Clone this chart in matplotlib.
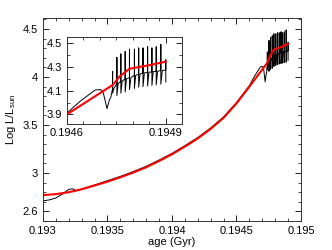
import matplotlib.pyplot as plt
import numpy as np
from matplotlib.ticker import MultipleLocator

plt.rcParams['font.family'] = ['Liberation Sans', 'DejaVu Sans']
plt.rcParams['mathtext.fontset'] = 'custom'
plt.rcParams['mathtext.rm'] = 'Liberation Sans'
plt.rcParams['font.size'] = 8

# model track (red)
red_age = [0.1930, 0.1931, 0.1932, 0.1933, 0.1934, 0.1935, 0.1936, 0.1937, 0.1938, 0.1939,
           0.1940, 0.1941, 0.1942, 0.1943, 0.1944, 0.1945,
           0.1946, 0.19474, 0.19476, 0.19479, 0.19482, 0.19485, 0.1949]
red_lum = [2.77, 2.78, 2.80, 2.83, 2.87, 2.91, 2.955, 3.005, 3.06, 3.125,
           3.195, 3.275, 3.36, 3.46, 3.575, 3.725,
           3.90, 4.15, 4.22, 4.285, 4.30, 4.315, 4.345]

# detailed track (black), smooth part
blk_age = [0.1930, 0.19305, 0.1931, 0.19315, 0.1932, 0.19323, 0.19326, 0.1933, 0.1934,
           0.1935, 0.1936, 0.1937, 0.1938, 0.1939, 0.1940, 0.1941, 0.1942, 0.1943,
           0.1944, 0.1945, 0.1946, 0.19464,
           0.194686, 0.194703, 0.194711, 0.194722, 0.194729, 0.194734]
blk_lum = [2.71, 2.72, 2.74, 2.78, 2.83, 2.835, 2.815, 2.835, 2.875,
           2.92, 2.965, 3.015, 3.07, 3.135, 3.205, 3.285, 3.37, 3.47,
           3.585, 3.735, 3.91, 4.01,
           4.106, 4.11, 4.08, 3.95, 4.02, 4.05]

# thermal pulses
pulse_age = [0.194739, 0.194752, 0.194764, 0.194777, 0.19479, 0.194805, 0.194818,
             0.194831, 0.194845, 0.194858, 0.194871, 0.194885, 0.1949]
pulse_top = [4.26, 4.38, 4.41, 4.43, 4.45, 4.45, 4.46, 4.46, 4.47, 4.46, 4.47, 4.49, 4.36]
pulse_bot = [4.08, 4.06, 4.08, 4.09, 4.11, 4.12, 4.13, 4.135, 4.14, 4.145, 4.15, 4.155, 4.175]
pulse_base = [4.12, 4.16, 4.18, 4.20, 4.21, 4.23, 4.24, 4.25, 4.255, 4.26, 4.265, 4.27, 4.275]

x = list(blk_age)
y = list(blk_lum)
for i in range(len(pulse_age)):
    x += [pulse_age[i], pulse_age[i], pulse_age[i]]
    y += [pulse_base[i], pulse_top[i], pulse_bot[i]]
    if i < len(pulse_age) - 1:
        gap = pulse_age[i + 1] - pulse_age[i]
        x += [pulse_age[i] + 0.3 * gap, pulse_age[i + 1]]
        y += [pulse_base[i], pulse_base[i + 1]]


def style(ax):
    ax.tick_params(which='both', direction='in', top=True, right=True, labelsize=8)
    ax.tick_params(which='major', length=4, width=0.6)
    ax.tick_params(which='minor', length=2, width=0.5)
    for s in ax.spines.values():
        s.set_linewidth(0.7)
        s.set_color('#333333')


fig = plt.figure(figsize=(3.32, 2.5), dpi=100)
ax = fig.add_axes([0.1295, 0.116, 0.7771, 0.812])
ax.plot(x, y, color='black', lw=0.7)
ax.plot(red_age, red_lum, color='red', lw=1.5)
ax.set_xlim(0.193, 0.195)
ax.set_ylim(2.5, 4.615)
ax.set_xticks([0.193, 0.1935, 0.194, 0.1945, 0.195])
ax.set_xticklabels(['0.193', '0.1935', '0.194', '0.1945', '0.195'])
ax.set_yticks([2.6, 3, 3.5, 4, 4.5])
ax.set_yticklabels(['2.6', '3', '3.5', '4', '4.5'])
ax.xaxis.set_minor_locator(MultipleLocator(0.0001))
ax.yaxis.set_minor_locator(MultipleLocator(0.1))
ax.set_xlabel('age (Gyr)', fontsize=8, labelpad=1)
ax.set_ylabel('Log L/L$_{\\rm sun}$', fontsize=8, labelpad=3)
style(ax)

ins = fig.add_axes([0.2009, 0.504, 0.3482, 0.3468])
ins.plot(x, y, color='black', lw=0.7)
ins.plot(red_age, red_lum, color='red', lw=1.5)
ins.set_xlim(0.1946, 0.19495)
ins.set_ylim(3.82, 4.55)
ins.set_xticks([0.1946, 0.1949])
ins.set_xticklabels(['0.1946', '0.1949'])
ins.set_yticks([3.9, 4.1, 4.3, 4.5])
ins.xaxis.set_minor_locator(MultipleLocator(0.00005))
ins.yaxis.set_minor_locator(MultipleLocator(0.1))
style(ins)
ins.tick_params(axis='x', pad=3)

fig.savefig('out.png', dpi=100)
